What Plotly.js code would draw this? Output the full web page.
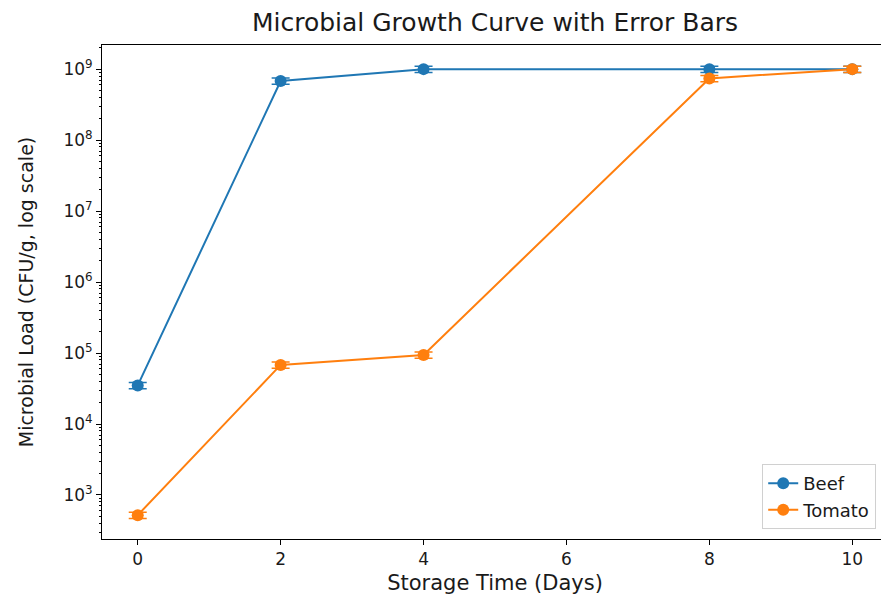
<!DOCTYPE html>
<html>
<head>
<meta charset="utf-8">
<script src="https://cdn.plot.ly/plotly-3.0.1.min.js"></script>
<style>
html,body{margin:0;padding:0;overflow:hidden;background:#fff;}
#chart{width:890px;height:596px;}
</style>
</head>
<body>
<div id="chart"></div>
<script>
const days = [0, 2, 4, 8, 10];
const beef = [3.5e4, 6.8e8, 1.0e9, 1.0e9, 1.0e9];
const beefErr = [3.5e3, 6.8e7, 1.0e8, 1.0e8, 1.0e8];
const tomato = [5.2e2, 6.8e4, 9.4e4, 7.4e8, 1.0e9];
const tomatoErr = [5.2e1, 6.8e3, 9.4e3, 7.4e7, 1.0e8];
const yTickVals = [1e3, 1e4, 1e5, 1e6, 1e7, 1e8, 1e9];
const yTickText = ['10<sup>3</sup>','10<sup>4</sup>','10<sup>5</sup>','10<sup>6</sup>','10<sup>7</sup>','10<sup>8</sup>','10<sup>9</sup>'];
const xTickVals = [0, 2, 4, 6, 8, 10];
const minorMult = [2, 3, 4, 5, 6, 7, 8, 9];
const minorDecades = [1e2, 1e3, 1e4, 1e5, 1e6, 1e7, 1e8, 1e9];

const minorVals = [];
minorDecades.forEach(d => minorMult.forEach(m => minorVals.push(m * d)));

const yRange = [2.38, 9.34];

function trace(name, y, err, color) {
  return {
    x: days, y: y, name: name, type: 'scatter', mode: 'lines+markers',
    line: {color: color, width: 2},
    marker: {color: color, size: 12, symbol: 'circle'},
    error_y: {type: 'data', array: err, visible: true, color: color, thickness: 1.5, width: 9}
  };
}
const data = [
  trace('Beef', beef, beefErr, '#1f77b4'),
  trace('Tomato', tomato, tomatoErr, '#ff7f0e'),
  {x: [null], y: [null], yaxis: 'y2', showlegend: false, hoverinfo: 'skip', type: 'scatter', mode: 'markers'}
];
const font = {family: 'DejaVu Sans, sans-serif', size: 17, color: '#1a1a1a'};
const layout = {
  width: 890, height: 596,
  margin: {l: 102, r: 2, t: 45, b: 57},
  paper_bgcolor: '#fff', plot_bgcolor: '#fff',
  font: font,
  title: {text: 'Microbial Growth Curve with Error Bars', font: {family: 'DejaVu Sans, sans-serif', size: 25, color: '#1a1a1a'}, x: 0.5, xanchor: 'center', xref: 'paper', y: 0.963, yanchor: 'middle'},
  xaxis: {
    range: [-0.5, 10.5], tickvals: xTickVals, ticks: 'outside', ticklen: 5, tickcolor: '#000',
    showline: true, mirror: true, linecolor: '#000', linewidth: 1, showgrid: false, zeroline: false,
    tickfont: {size: 17, color: '#1a1a1a'},
    title: {text: 'Storage Time (Days)', font: {size: 21, color: '#1a1a1a'}, standoff: 6}
  },
  yaxis: {
    type: 'log', range: yRange, tickvals: yTickVals, ticktext: yTickText,
    ticks: 'outside', ticklen: 5, tickcolor: '#000',
    showline: true, mirror: true, linecolor: '#000', linewidth: 1, showgrid: false, zeroline: false,
    tickfont: {size: 17, color: '#1a1a1a'},
    title: {text: 'Microbial Load (CFU/g, log scale)', font: {size: 19, color: '#1a1a1a'}, standoff: 24}
  },
  yaxis2: {
    type: 'log', range: yRange, overlaying: 'y', side: 'left', anchor: 'x',
    tickvals: minorVals, showticklabels: false, ticks: 'outside', ticklen: 2.5, tickcolor: '#000',
    showgrid: false, zeroline: false, showline: false
  },
  legend: {
    x: 0.985, y: 0.02, xanchor: 'right', yanchor: 'bottom',
    bgcolor: 'rgba(255,255,255,0.8)', bordercolor: '#d0d0d0', borderwidth: 1,
    font: {size: 18, color: '#1a1a1a'}
  },
  showlegend: true
};
Plotly.newPlot('chart', data, layout, {displayModeBar: false, staticPlot: true});
</script>
</body>
</html>
